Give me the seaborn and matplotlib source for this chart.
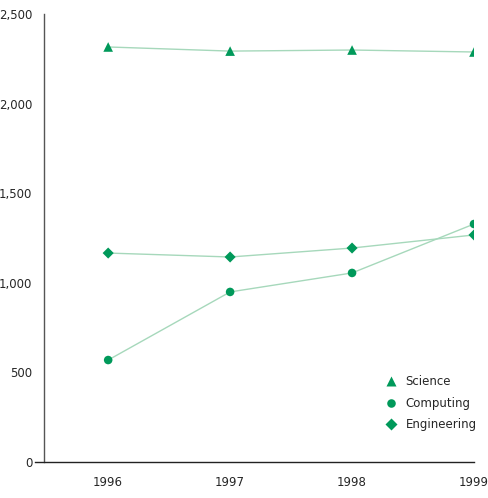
import pandas as pd
import matplotlib
matplotlib.use('Agg')
import matplotlib.pyplot as plt
import seaborn as sns

years = [1996, 1997, 1998, 1999]
science = [2316, 2293, 2299, 2288]
computing = [569, 949, 1055, 1328]
engineering = [1166, 1144, 1194, 1267]
series = ['Science', 'Computing', 'Engineering']

data = pd.DataFrame({
    'year': years * 3,
    'value': science + computing + engineering,
    'field': [s for s in series for _ in years],
})

sns.set_style('white')
plt.rcParams['font.family'] = ['DejaVu Sans']

fig = plt.figure(figsize=(4.88, 4.98), dpi=100)
ax = fig.add_axes([35 / 488, 36 / 498, 439 / 488, 448 / 498])

dark = '#00995a'
light = '#a6d8bb'

sns.lineplot(data=data, x='year', y='value', units='field', estimator=None,
             color=light, linewidth=1, ax=ax, legend=False)
sns.scatterplot(data=data, x='year', y='value', style='field', style_order=series,
                size='field', size_order=series,
                sizes={'Science': 48, 'Computing': 38, 'Engineering': 32},
                markers={'Science': '^', 'Computing': 'o', 'Engineering': 'D'},
                color=dark, edgecolor='none', ax=ax, zorder=3)

ax.set_xlim(1995.40, 1999.0)
ax.set_ylim(0, 2500)
ax.set_xticks(years)
ax.set_yticks([0, 500, 1000, 1500, 2000, 2500])
ax.set_yticklabels(['0', '500', '1,000', '1,500', '2,000', '2,500'])
ax.set_xlabel('')
ax.set_ylabel('')

for side in ['top', 'right']:
    ax.spines[side].set_visible(False)
ax.spines['left'].set_position(('data', 1995.47))
ax.spines['left'].set_color('#555555')
ax.spines['bottom'].set_color('#222222')
ax.spines['left'].set_linewidth(1)
ax.spines['bottom'].set_linewidth(1)

ax.tick_params(axis='y', direction='inout', length=12, width=1, color='#222222',
               labelsize=8.5, pad=2)
ax.tick_params(axis='x', length=0, labelsize=8.5, pad=10)

leg = ax.legend(loc='lower right', bbox_to_anchor=(1.03, 0.045), frameon=False,
                fontsize=8.5, handletextpad=0.2, labelspacing=0.72)

fig.savefig('out.png', dpi=100)
